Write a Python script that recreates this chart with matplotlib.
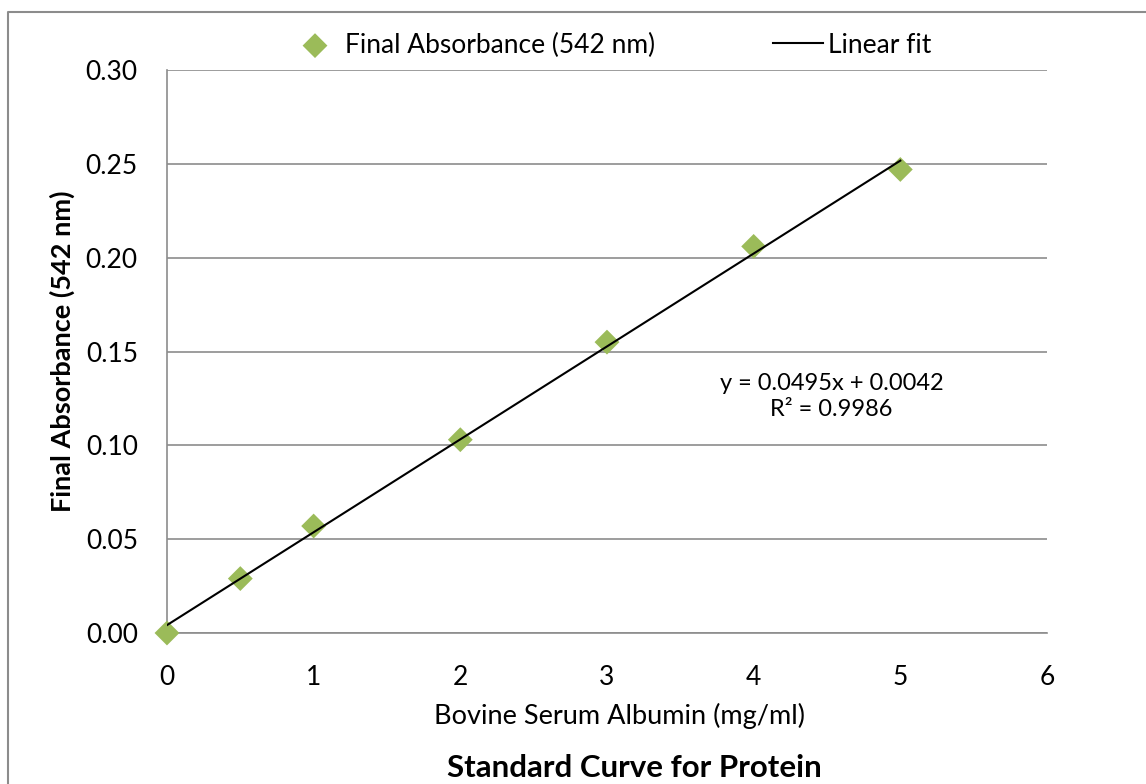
import matplotlib.pyplot as plt
from matplotlib.lines import Line2D

plt.rcParams['font.family'] = ['Lato', 'DejaVu Sans']

bsa = [0, 0.5, 1, 2, 3, 4, 5]  # mg/ml
absorbance = [0.000, 0.029, 0.057, 0.103, 0.155, 0.206, 0.247]
slope = 0.0495
intercept = 0.0042
r2 = 0.9986

fit_x = [0, 5]
fit_y = [slope * v + intercept for v in fit_x]

fig = plt.figure(figsize=(11.46, 7.84), dpi=100)
ax = fig.add_axes([0.1457, 0.1926, 0.7679, 0.7181])

pts = ax.scatter(bsa, absorbance, marker='D', s=160, color='#9BBB59',
                 edgecolors='none', zorder=3, clip_on=False,
                 label='Final Absorbance (542 nm)')
ln, = ax.plot(fit_x, fit_y, color='black', lw=1.5, zorder=4, label='Linear fit')

ax.set_xlim(0, 6)
ax.set_ylim(0, 0.30)
ax.set_xticks(range(0, 7))
ax.set_yticks([0, 0.05, 0.10, 0.15, 0.20, 0.25, 0.30])
ax.set_yticklabels(['0.00', '0.05', '0.10', '0.15', '0.20', '0.25', '0.30'])
ax.tick_params(length=0, labelsize=19)
ax.tick_params(axis='x', pad=23)
ax.tick_params(axis='y', pad=21)
ax.grid(axis='y', color='#8c8c8c', lw=1.2)
ax.set_axisbelow(True)
for s in ['top', 'right']:
    ax.spines[s].set_visible(False)
for s in ['left', 'bottom']:
    ax.spines[s].set_color('#8c8c8c')
    ax.spines[s].set_linewidth(1.2)

ax.set_xlabel('Bovine Serum Albumin (mg/ml)', fontsize=19.5, va='center')
ax.xaxis.set_label_coords(0.514, -0.147)
ax.set_ylabel('Final Absorbance (542 nm)', fontsize=19.5, fontweight='bold', va='center')
ax.yaxis.set_label_coords(-0.119, 0.5)

ax.text(4.53, 0.1258, 'y = %.4fx + %.4f\nR² = %.4f' % (slope, intercept, r2),
        ha='center', va='center', fontsize=17, linespacing=1.3)

fig.legend(handles=[pts, ln], loc='center', bbox_to_anchor=(0.533, 0.9426), ncol=2,
           frameon=False, fontsize=19, columnspacing=4.45, handlelength=1.9,
           handletextpad=0.2)

fig.text(0.5537, 0.0204, 'Standard Curve for Protein', ha='center', va='center',
         fontsize=22.5, fontweight='bold')

# chart area border (left and top edges only are visible in the crop)
fig.add_artist(Line2D([0.007, 0.007, 1.0], [0.0, 0.9847, 0.9847],
                      transform=fig.transFigure, color='#8c8c8c', lw=1.5))

fig.savefig('out.png', dpi=100)
